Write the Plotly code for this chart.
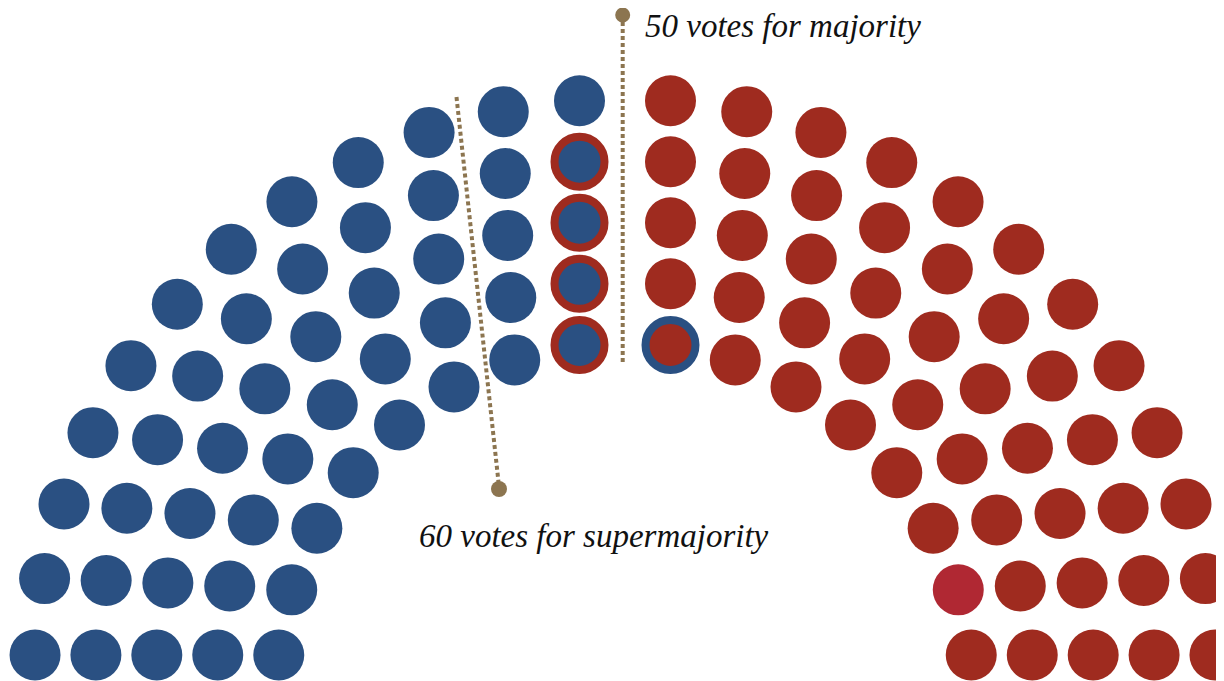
import numpy as np
import plotly.graph_objects as go

# ---------------- data ----------------
ring_sizes = [24, 22, 20, 18, 16]          # seats per ring, outer -> inner
party_names = ["Democrats", "Republicans"]  # left half, right half
party_seats = [50, 50]
dem_pickup_rings = [2, 3, 4, 5]             # aisle seat on these rings: Democratic pickup
rep_pickup_rings = [5]                      # aisle seat on these rings: Republican pickup
other_seats = [(5, 2)]                      # (ring, seat counted from outer edge) on right half
label_majority = "50 votes for majority"
label_super = "60 votes for supermajority"

# ---------------- style ----------------
BLUE = "#2a5082"
RED = "#9f2b1f"
CRIMSON = "#b02833"
GOLD = "#8c7550"

PAGE_W, PAGE_H = 1224, 681
OFF = 8  # default page body margin
W, H = PAGE_W - OFF, PAGE_H - OFF
cx, cy = 625.0, 690.0
r_outer, ring_gap = 591.0, 60.75
base_off = 35.0
aisle_off = 45.5
DOT = 51

# ---------------- layout of seats ----------------
seats = []
for k, n in enumerate(ring_sizes):
    R = r_outer - ring_gap * k
    m = n // 2
    a = np.arcsin(base_off / R)
    b = np.arccos(aisle_off / R)
    th = np.linspace(a, b, m)
    for side, sgn in (("L", -1), ("R", 1)):
        for j, t in enumerate(th):
            ring = k + 1
            seat = j + 1
            if side == "L":
                status = "dem_gain" if (ring in dem_pickup_rings and seat == m) else "dem"
            else:
                if ring in rep_pickup_rings and seat == m:
                    status = "rep_gain"
                elif (ring, seat) in other_seats:
                    status = "other"
                else:
                    status = "rep"
            seats.append(dict(x=cx + sgn * R * np.cos(t), y=cy - R * np.sin(t), status=status))

def pts(st):
    s = [p for p in seats if p["status"] == st]
    return [p["x"] for p in s], [p["y"] for p in s]

fig = go.Figure()
styles = {
    "dem": dict(size=DOT, color=BLUE, line=dict(width=0)),
    "rep": dict(size=DOT, color=RED, line=dict(width=0)),
    "other": dict(size=DOT, color=CRIMSON, line=dict(width=0)),
    "dem_gain": dict(size=50, color=BLUE, line=dict(width=8, color=RED)),
    "rep_gain": dict(size=50, color=RED, line=dict(width=8, color=BLUE)),
}
for st, mk in styles.items():
    x, y = pts(st)
    fig.add_trace(go.Scatter(x=x, y=y, mode="markers", marker=mk, hoverinfo="skip", showlegend=False))

# ---------------- threshold guides ----------------
mx = 622.7
fig.add_shape(type="line", x0=mx, x1=mx, y0=22, y1=364,
              line=dict(color=GOLD, width=4, dash="4px,3px"))
fig.add_shape(type="circle", x0=mx - 7.5, x1=mx + 7.5, y0=7.5, y1=22.5,
              fillcolor=GOLD, line=dict(width=0))
fig.add_shape(type="line", x0=456.5, x1=498.5, y0=97, y1=482,
              line=dict(color=GOLD, width=4, dash="4px,3px"))
fig.add_shape(type="circle", x0=491, x1=507, y0=481, y1=497,
              fillcolor=GOLD, line=dict(width=0))

font = dict(family="Liberation Serif, Georgia, serif", size=33, color="#111111", style="italic")
fig.add_annotation(x=643, y=26, text=label_majority, showarrow=False,
                   xanchor="left", yanchor="middle", font=font)
fig.add_annotation(x=417, y=536, text=label_super, showarrow=False,
                   xanchor="left", yanchor="middle", font=font)

fig.update_layout(
    width=W, height=H, margin=dict(l=0, r=0, t=0, b=0),
    paper_bgcolor="white", plot_bgcolor="white",
    xaxis=dict(range=[OFF, PAGE_W], visible=False, fixedrange=True),
    yaxis=dict(range=[PAGE_H, OFF], visible=False, fixedrange=True),
)
fig.write_html("out.html")
